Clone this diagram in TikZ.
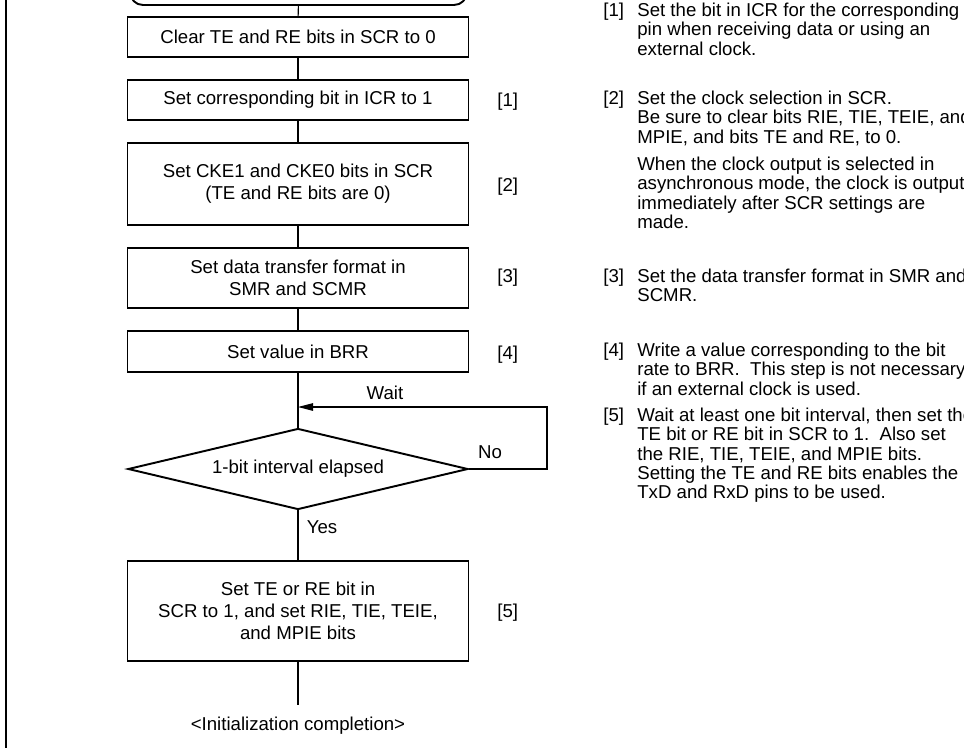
\documentclass[tikz,border=0pt]{standalone}
\usepackage{fontspec}
\setmainfont{Liberation Sans}
\usetikzlibrary{arrows.meta,shapes.geometric}

\newcommand{\notelines}[1]{\begin{tabular}[t]{@{}l@{}}#1\end{tabular}}

\tikzset{
  procbox/.style={draw,line width=1.1pt,minimum width=68.2mm,align=center,inner sep=0pt},
  termbox/.style={draw,line width=1.1pt,rounded corners=2.6mm,minimum width=67.4mm,minimum height=8mm},
  decbox/.style={draw,line width=1.1pt,diamond,aspect=4.2,minimum width=68mm,minimum height=16.2mm,inner sep=0pt},
  link/.style={line width=0.6pt},
  lbl/.style={inner sep=0pt},
  note/.style={inner sep=0pt,anchor=base west,font=\fontsize{10.6pt}{11pt}\selectfont},
}

\begin{document}
\begin{tikzpicture}[x=0.2mm,y=-0.2mm,font=\fontsize{10.6pt}{12.4pt}\selectfont]
  \useasboundingbox (0,0) rectangle (964,747);
  \clip (0,0) rectangle (964,747);

  % Frame
  \draw[line width=1.4pt] (6,-5) -- (6,752);

  % Start (cut off)
  \node[termbox] (start) at (298.5,-15) {};

  % Steps
  \node[procbox,minimum height=8mm] (clr) at (298,37) {Clear TE and RE bits in SCR to 0};
  \node[procbox,minimum height=8mm] (icr) at (298,100) {Set corresponding bit in ICR to 1};
  \node[procbox,minimum height=16.4mm] (cke) at (298,184) {Set CKE1 and CKE0 bits in SCR\\(TE and RE bits are 0)};
  \node[procbox,minimum height=12mm] (fmt) at (298,278) {Set data transfer format in\\SMR and SCMR};
  \node[procbox,minimum height=8.2mm] (brr) at (298,351.5) {Set value in BRR};

  % Wait loop
  \node[decbox] (chk) at (298,469) {1-bit interval elapsed};
  \coordinate (loopc) at (547,407);
  \coordinate (join) at (298,407);
  \node[lbl] (wait) at (385,393) {Wait};
  \node[lbl] (no) at (490,452) {No};
  \node[lbl] (yes) at (322,527) {Yes};

  % Final step
  \node[procbox,minimum height=20mm] (fin) at (298,611) {Set TE or RE bit in\\SCR to 1, and set RIE, TIE, TEIE,\\and MPIE bits};
  \node[lbl,anchor=north,inner ysep=2.4mm] (done) at (298,705) {<Initialization completion>};

  % Connectors
  \draw[link] (start) -- (clr);
  \draw[link] (clr) -- (icr);
  \draw[link] (icr) -- (cke);
  \draw[link] (cke) -- (fmt);
  \draw[link] (fmt) -- (brr);
  \draw[link] (brr) -- (chk);
  \draw[link,-{Triangle[length=3mm,width=1.5mm]}] (chk.east) -| (loopc) -- (join);
  \draw[link] (chk) -- (fin);
  \draw[link] (fin) -- (done);

  % Step marks
  \node[note] (m1) at (497,106.5) {[1]};
  \node[note] (m2) at (497,191.5) {[2]};
  \node[note] (m3) at (497,282.5) {[3]};
  \node[note] (m4) at (497,359.5) {[4]};
  \node[note] (m5) at (497,617.5) {[5]};

  % Notes
  \node[note] (k1) at (603,16.5) {[1]};
  \node[note] (t1) at (637,16.5) {\notelines{Set the bit in ICR for the corresponding\\pin when receiving data or using an\\external clock.}};
  \node[note] (k2) at (603,104.5) {[2]};
  \node[note] (t2) at (637,104.5) {\notelines{Set the clock selection in SCR.\\Be sure to clear bits RIE, TIE, TEIE, and\\MPIE, and bits TE and RE, to 0.}};
  \node[note] (t2b) at (637,170.5) {\notelines{When the clock output is selected in\\asynchronous mode, the clock is output\\immediately after SCR settings are\\made.}};
  \node[note] (k3) at (603,282.5) {[3]};
  \node[note] (t3) at (637,282.5) {\notelines{Set the data transfer format in SMR and\\SCMR.}};
  \node[note] (k4) at (603,356.5) {[4]};
  \node[note] (t4) at (637,356.5) {\notelines{Write a value corresponding to the bit\\rate to BRR.\ \ This step is not necessary\\if an external clock is used.}};
  \node[note] (k5) at (603,421.5) {[5]};
  \node[note] (t5) at (637,421.5) {\notelines{Wait at least one bit interval, then set the\\TE bit or RE bit in SCR to 1.\ \ Also set\\the RIE, TIE, TEIE, and MPIE bits.\\Setting the TE and RE bits enables the\\TxD and RxD pins to be used.}};
\end{tikzpicture}
\end{document}
